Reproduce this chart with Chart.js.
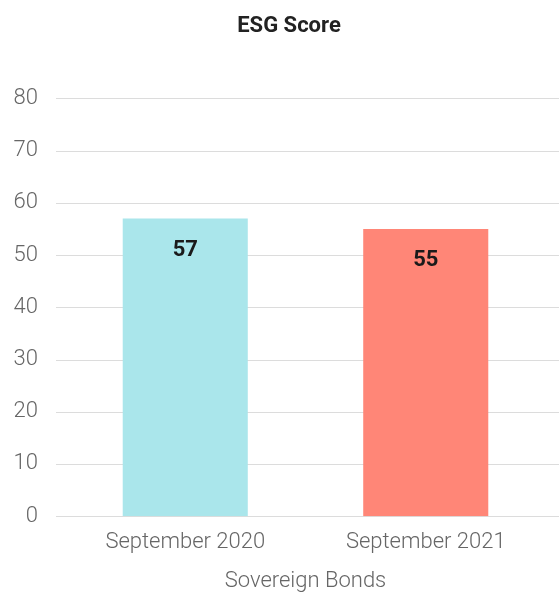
<!DOCTYPE html>
<html>
<head>
<meta charset="utf-8">
<script src="https://cdn.jsdelivr.net/npm/chart.js@4/dist/chart.umd.min.js"></script>
<style>
  html, body { margin: 0; padding: 0; background: #fff; }
  #wrap { width: 559px; height: 599px; }
</style>
</head>
<body>
<div id="wrap"><canvas id="esgChart"></canvas></div>
<script>
// ===== DATA =====
const categories = ['September 2020', 'September 2021'];
const scores = [57, 55];
const barColors = ['#aae6eb', '#ff8677'];
const yTicks = [0, 10, 20, 30, 40, 50, 60, 70, 80];

// ===== GRID LINES (run a little past the plot on both sides) =====
const wideGrid = {
    id: 'wideGrid',
    beforeDatasetsDraw(chart) {
        const ctx = chart.ctx;
        const y = chart.scales.y;
        const x0 = chart.chartArea.left - 9;
        const x1 = chart.width;
        ctx.save();
        ctx.strokeStyle = '#dcdcdc';
        ctx.lineWidth = 1;
        yTicks.forEach(function (v) {
            const py = Math.round(y.getPixelForValue(v)) + 0.5;
            ctx.beginPath();
            ctx.moveTo(x0, py);
            ctx.lineTo(x1, py);
            ctx.stroke();
        });
        ctx.restore();
    }
};

// ===== VALUE LABELS INSIDE BARS =====
const valueLabels = {
    id: 'valueLabels',
    afterDatasetsDraw(chart) {
        const ctx = chart.ctx;
        const meta = chart.getDatasetMeta(0);
        ctx.save();
        ctx.font = "bold 22px 'Roboto', sans-serif";
        ctx.fillStyle = '#1a1a1a';
        ctx.textAlign = 'center';
        ctx.textBaseline = 'middle';
        meta.data.forEach(function (bar, i) {
            ctx.fillText(String(scores[i]), bar.x, bar.y + 32);
        });
        ctx.restore();
    }
};

new Chart(document.getElementById('esgChart'), {
    type: 'bar',
    data: {
        labels: categories,
        datasets: [{
            label: 'ESG Score',
            data: scores,
            backgroundColor: barColors,
            borderWidth: 0,
            barPercentage: 0.52,
            categoryPercentage: 1
        }]
    },
    options: {
        responsive: true,
        maintainAspectRatio: false,
        animation: false,
        // right padding below zero nudges the centred title to the right, as in the original
        layout: { padding: { left: 10, right: -9, top: 13, bottom: 4 } },
        plugins: {
            legend: { display: false },
            tooltip: { enabled: false },
            title: {
                display: true,
                text: 'ESG Score',
                color: '#222',
                font: { family: "'Roboto', sans-serif", size: 22, weight: 'bold' },
                padding: { top: 0, bottom: 59 }
            }
        },
        scales: {
            x: {
                grid: { display: false },
                border: { display: false },
                ticks: {
                    color: '#666',
                    padding: 5,
                    font: { family: "'Roboto', sans-serif", size: 22, weight: '300' }
                },
                title: {
                    display: true,
                    text: 'Sovereign Bonds',
                    color: '#666',
                    padding: { top: 8, bottom: 0 },
                    font: { family: "'Roboto', sans-serif", size: 22, weight: '300' }
                }
            },
            y: {
                min: 0,
                max: 80,
                afterBuildTicks: function (axis) {
                    axis.ticks = yTicks.map(function (v) { return { value: v }; });
                },
                afterFit: function (axis) {
                    axis.width = 55;
                },
                grid: { display: false },
                border: { display: false },
                ticks: {
                    color: '#666',
                    padding: 19,
                    font: { family: "'Roboto', sans-serif", size: 22, weight: '300' }
                }
            },
            // empty spacer on the right so the bars sit where they do in the original
            spacer: {
                type: 'linear',
                position: 'right',
                afterFit: function (axis) {
                    axis.width = 22;
                },
                grid: { display: false },
                border: { display: false },
                ticks: { display: false }
            }
        }
    },
    plugins: [wideGrid, valueLabels]
});
</script>
</body>
</html>
